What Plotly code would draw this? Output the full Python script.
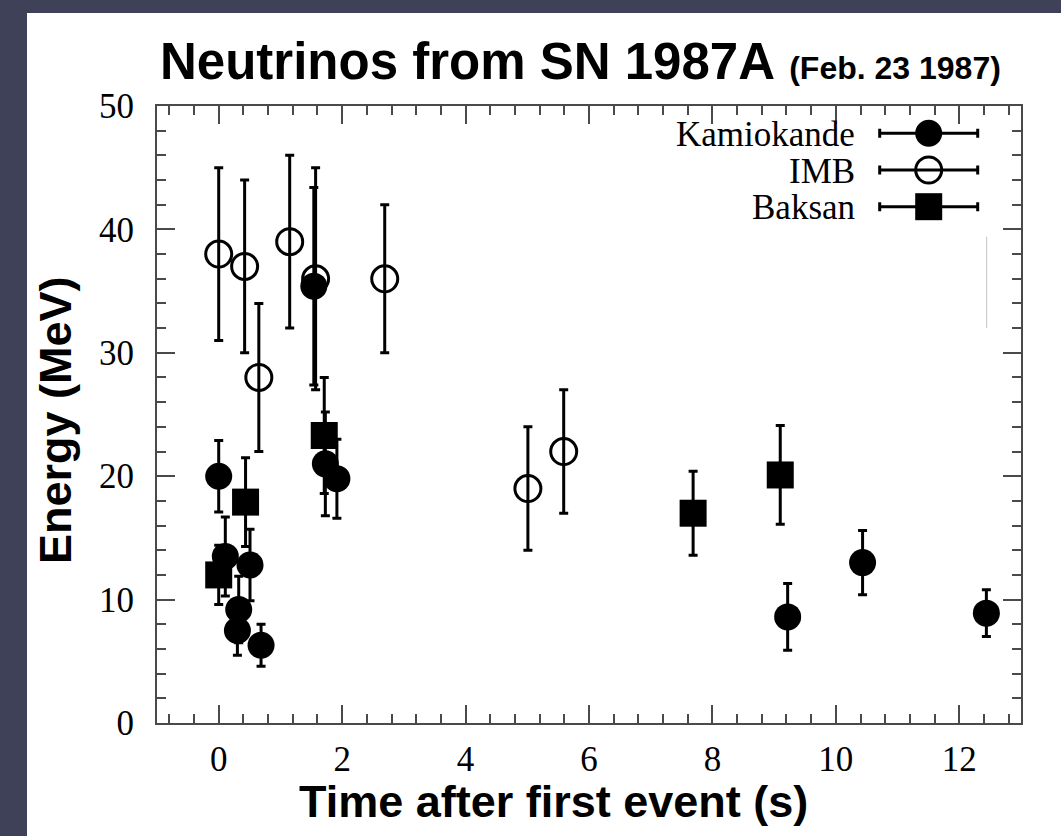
import plotly.graph_objects as go

# ---- Neutrino events from SN 1987A: time after first event (s), energy (MeV), 1-sigma error ----
kam_t = [0.000, 0.107, 0.303, 0.324, 0.507, 0.686, 1.541, 1.728, 1.915, 9.219, 10.433, 12.439]
kam_e = [20.0, 13.5, 7.5, 9.2, 12.8, 6.3, 35.4, 21.0, 19.8, 8.6, 13.0, 8.9]
kam_err = [2.9, 3.2, 2.0, 2.7, 2.9, 1.7, 8.0, 4.2, 3.2, 2.7, 2.6, 1.9]

imb_t = [0.00, 0.42, 0.65, 1.15, 1.57, 2.69, 5.01, 5.59]
imb_e = [38.0, 37.0, 28.0, 39.0, 36.0, 36.0, 19.0, 22.0]
imb_err = [7.0, 7.0, 6.0, 7.0, 9.0, 6.0, 5.0, 5.0]

bak_t = [0.000, 0.435, 1.710, 7.687, 9.099]
bak_e = [12.0, 17.9, 23.3, 17.0, 20.1]
bak_err = [2.4, 3.6, 4.7, 3.4, 4.0]

detectors = ["Kamiokande", "IMB", "Baksan"]
x_ticks = [0, 2, 4, 6, 8, 10, 12]
y_ticks = [0, 10, 20, 30, 40, 50]

title_main = "Neutrinos from SN 1987A"
title_date = "(Feb. 23 1987)"
x_title = "Time after first event (s)"
y_title = "Energy (MeV)"

# ---- page geometry (pixels) ----
W, H = 1061, 836
ML, MR, MT, MB = 157, 40, 106, 113
PW, PH = W - ML - MR, H - MT - MB


def fx(p):
    """page pixel x -> paper coordinate"""
    return (p - ML) / PW


def fy(p):
    """page pixel y -> paper coordinate"""
    return (H - MB - p) / PH


AXIS_GREY = "#4a4a4a"
FRAME = "#3e4157"
SERIF = "Liberation Serif"
SANS = "Liberation Sans"

err_style = dict(type="data", symmetric=True, thickness=3, width=4.5, color="black")

fig = go.Figure()

fig.add_trace(go.Scatter(
    x=imb_t, y=imb_e, mode="markers", name=detectors[1], showlegend=False,
    marker=dict(symbol="circle-open", size=26, color="black", line=dict(width=3, color="black")),
    error_y=dict(array=imb_err, **err_style),
))
fig.add_trace(go.Scatter(
    x=bak_t, y=bak_e, mode="markers", name=detectors[2], showlegend=False,
    marker=dict(symbol="square", size=27, color="black", line=dict(width=0)),
    error_y=dict(array=bak_err, **err_style),
))
fig.add_trace(go.Scatter(
    x=kam_t, y=kam_e, mode="markers", name=detectors[0], showlegend=False,
    marker=dict(symbol="circle", size=27, color="black", line=dict(width=0)),
    error_y=dict(array=kam_err, **err_style),
))

# ---- legend keys, drawn in a pixel frame laid over the plot ----
key_x = 928.7
key_rows = [133.3, 170.0, 206.7]
key_half = 49
key_symbols = ["circle", "circle-open", "square"]
key_sizes = [27, 26, 27]
key_lines = [0, 3, 0]
for sym, row, size, lw in zip(key_symbols, key_rows, key_sizes, key_lines):
    fig.add_trace(go.Scatter(
        x=[key_x], y=[row], mode="markers", xaxis="x2", yaxis="y2",
        showlegend=False, hoverinfo="skip",
        marker=dict(symbol=sym, size=size, color="black", opacity=1,
                    line=dict(width=lw, color="black")),
        error_x=dict(type="constant", value=key_half, thickness=3, width=4.5, color="black"),
    ))

annotations = []
for name, row in zip(detectors, key_rows):
    annotations.append(dict(
        text=name, x=fx(857), y=fy(row + 1), xref="paper", yref="paper",
        xanchor="right", yanchor="middle", showarrow=False,
        font=dict(family=SERIF, size=35, color="black"),
    ))

annotations.append(dict(
    text=f"<b>{title_main}</b> <span style='font-size:32px'><b>{title_date}</b></span>",
    x=fx(158), y=fy(61), xref="paper", yref="paper", xanchor="left", yanchor="middle",
    showarrow=False, font=dict(family=SANS, size=51, color="black"),
))
annotations.append(dict(
    text=f"<b>{x_title}</b>", x=fx(553), y=fy(801), xref="paper", yref="paper",
    xanchor="center", yanchor="middle", showarrow=False,
    font=dict(family=SANS, size=45, color="black"),
))
annotations.append(dict(
    text=f"<b>{y_title}</b>", x=fx(55), y=fy(420), xref="paper", yref="paper",
    xanchor="center", yanchor="middle", showarrow=False, textangle=-90,
    font=dict(family=SANS, size=45, color="black"),
))

shapes = [
    # dark frame along the left and top edges of the page
    dict(type="rect", xref="paper", yref="paper", x0=fx(0), x1=fx(27), y0=fy(H), y1=fy(0),
         fillcolor=FRAME, line=dict(width=0), layer="below"),
    dict(type="rect", xref="paper", yref="paper", x0=fx(0), x1=fx(W), y0=fy(13), y1=fy(0),
         fillcolor=FRAME, line=dict(width=0), layer="below"),
    # faint vertical hairline near the right edge of the plot
    dict(type="line", xref="x2", yref="y2", x0=986.7, x1=986.7, y0=236.7, y1=328,
         line=dict(color="#c4c4c4", width=1)),
]

axis_common = dict(
    ticks="inside", ticklen=18, tickwidth=1.5, tickcolor=AXIS_GREY,
    showline=True, linewidth=2, linecolor=AXIS_GREY, mirror="allticks",
    showgrid=False, zeroline=False,
    tickfont=dict(family=SERIF, size=35, color="black"),
)

fig.update_layout(
    width=W, height=H,
    margin=dict(l=ML, r=MR, t=MT, b=MB, pad=0),
    paper_bgcolor="white", plot_bgcolor="white",
    xaxis=dict(range=[-1, 13], tickmode="array", tickvals=x_ticks, ticklabelstandoff=4,
               minor=dict(tickmode="linear", tick0=0, dtick=0.4, ticks="inside", ticklen=9,
                          tickwidth=1.5, tickcolor=AXIS_GREY, showgrid=False),
               **axis_common),
    yaxis=dict(range=[0, 50], tickmode="array", tickvals=y_ticks, ticklabelstandoff=14,
               minor=dict(tickmode="linear", tick0=0, dtick=2, ticks="inside", ticklen=9,
                          tickwidth=1.5, tickcolor=AXIS_GREY, showgrid=False),
               **axis_common),
    xaxis2=dict(range=[ML, W - MR], overlaying="x", visible=False, fixedrange=True),
    yaxis2=dict(range=[H - MB, MT], overlaying="y", visible=False, fixedrange=True),
    annotations=annotations,
    shapes=shapes,
    showlegend=False,
)

fig.write_html("out.html")
